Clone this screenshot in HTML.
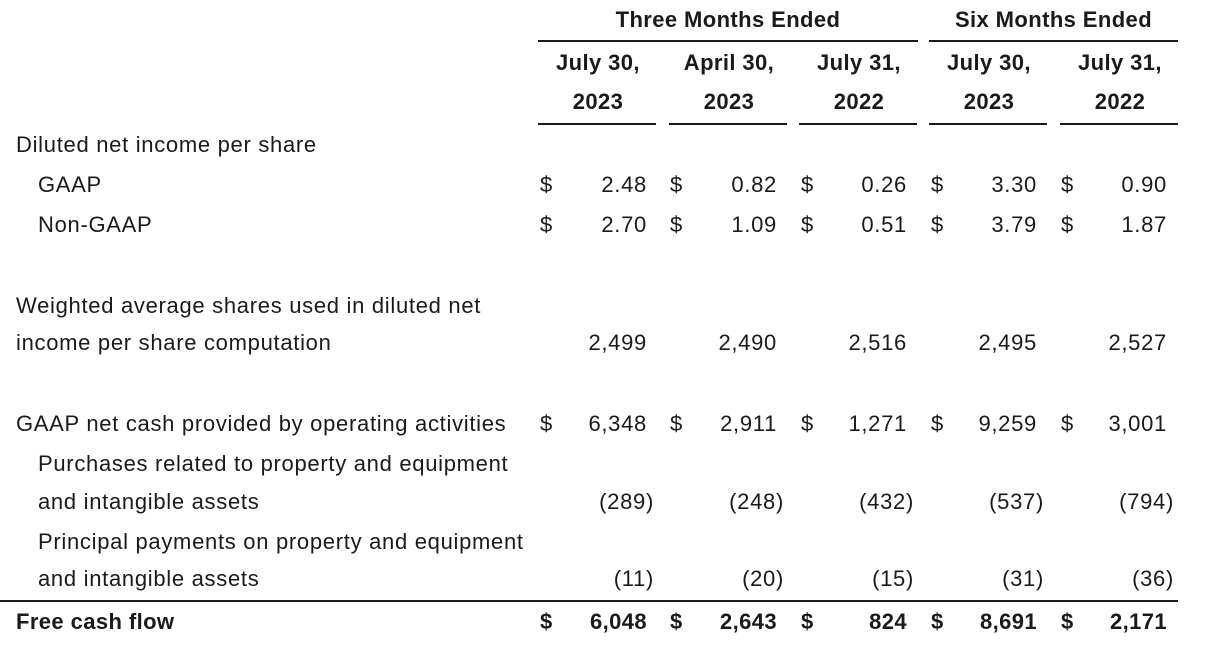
<!DOCTYPE html>
<html><head><meta charset="utf-8"><style>
body{margin:0;width:1228px;height:652px;background:#fff;position:relative;overflow:hidden;font-family:"Liberation Sans",sans-serif;color:#1a1a1a;font-size:22px;letter-spacing:0.7px}
.t{position:absolute;line-height:24px;white-space:nowrap}
.b{font-weight:bold;letter-spacing:0.4px}
.r{text-align:right}
.c{text-align:center}
.l{position:absolute;height:2px;background:#1a1a1a}
</style></head><body>
<div class="t b c" style="left:538px;width:380px;top:8px">Three Months Ended</div>
<div class="t b c" style="left:929px;width:249px;top:8px">Six Months Ended</div>
<div class="l" style="left:538px;width:380px;top:40px"></div>
<div class="l" style="left:929px;width:249px;top:40px"></div>

<div class="t b c" style="left:538px;width:120px;top:51px">July 30,</div>
<div class="t b c" style="left:669px;width:120px;top:51px">April 30,</div>
<div class="t b c" style="left:799px;width:120px;top:51px">July 31,</div>
<div class="t b c" style="left:929px;width:120px;top:51px">July 30,</div>
<div class="t b c" style="left:1060px;width:120px;top:51px">July 31,</div>
<div class="t b c" style="left:538px;width:120px;top:90px">2023</div>
<div class="t b c" style="left:669px;width:120px;top:90px">2023</div>
<div class="t b c" style="left:799px;width:120px;top:90px">2022</div>
<div class="t b c" style="left:929px;width:120px;top:90px">2023</div>
<div class="t b c" style="left:1060px;width:120px;top:90px">2022</div>
<div class="l" style="left:538px;width:118px;top:123px"></div>
<div class="l" style="left:669px;width:118px;top:123px"></div>
<div class="l" style="left:799px;width:118px;top:123px"></div>
<div class="l" style="left:929px;width:118px;top:123px"></div>
<div class="l" style="left:1060px;width:118px;top:123px"></div>

<div class="t" style="left:16px;top:133px">Diluted net income per share</div>
<div class="t" style="left:38px;top:173px">GAAP</div>
<div class="t" style="left:38px;top:213px">Non-GAAP</div>
<div class="t" style="left:16px;top:294px">Weighted average shares used in diluted net</div>
<div class="t" style="left:16px;top:331px">income per share computation</div>
<div class="t" style="left:16px;top:412px">GAAP net cash provided by operating activities</div>
<div class="t" style="left:38px;top:452px">Purchases related to property and equipment</div>
<div class="t" style="left:38px;top:490px">and intangible assets</div>
<div class="t" style="left:38px;top:530px">Principal payments on property and equipment</div>
<div class="t" style="left:38px;top:567px">and intangible assets</div>
<div class="l" style="left:0;width:1178px;top:600px"></div>
<div class="t b" style="left:16px;top:610px">Free cash flow</div>

<div id="nums"></div>
<script>
var xs=[540,670,801,931,1061], re=[647,777,907,1037,1167];
var rows=[
[173,true,["2.48","0.82","0.26","3.30","0.90"],false],
[213,true,["2.70","1.09","0.51","3.79","1.87"],false],
[331,false,["2,499","2,490","2,516","2,495","2,527"],false],
[412,true,["6,348","2,911","1,271","9,259","3,001"],false],
[490,false,["(289)","(248)","(432)","(537)","(794)"],false],
[567,false,["(11)","(20)","(15)","(31)","(36)"],false],
[610,true,["6,048","2,643","824","8,691","2,171"],true]];
var h="";
rows.forEach(function(r){
 for(var i=0;i<5;i++){
  var b=r[3]?" b":"";
  if(r[1])h+='<div class="t'+b+'" style="left:'+xs[i]+'px;top:'+r[0]+'px">$</div>';
  var v=r[2][i],e=re[i]+(v.charAt(0)=="("?7:0);
  h+='<div class="t r'+b+'" style="left:'+(e-120)+'px;width:120px;top:'+r[0]+'px">'+v+'</div>';
 }
});
document.getElementById("nums").innerHTML=h;
</script>
</body></html>
